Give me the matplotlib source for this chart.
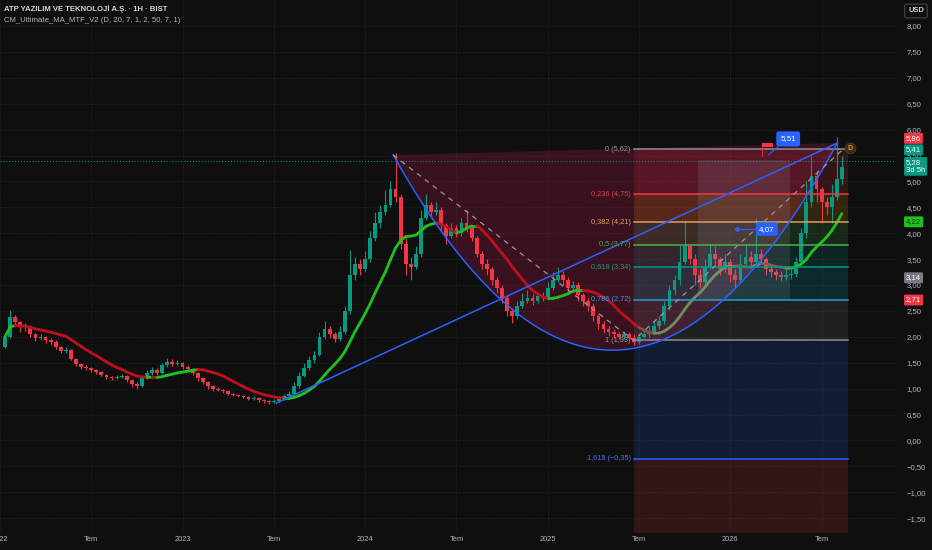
import matplotlib.pyplot as plt
import matplotlib.transforms as mtransforms
from matplotlib.collections import LineCollection
import numpy as np
import pandas as pd

plt.rcParams["font.family"] = ["Liberation Sans", "DejaVu Sans"]

BG = "#0f0f0f"
UP = "#089981"
DOWN = "#f23645"
TXT = "#b2b5be"
BLUE = "#2962ff"

# candles, about 3 per month, first one in Jan 2022
first_open = 1.80
closes = [
    2.00, 2.38, 2.28, 2.18, 2.20, 2.05, 1.98, 2.00, 1.93, 1.90,
    1.80, 1.72, 1.74, 1.58, 1.48, 1.42, 1.40, 1.35, 1.32, 1.27,
    1.22, 1.20, 1.22, 1.24, 1.16, 1.08, 1.05, 1.20, 1.30, 1.36,
    1.30, 1.45, 1.52, 1.48, 1.50, 1.42, 1.38, 1.30, 1.20, 1.12,
    1.05, 1.00, 0.98, 0.95, 0.90, 0.88, 0.86, 0.84, 0.80, 0.82,
    0.78, 0.76, 0.74, 0.77, 0.80, 0.86, 0.90, 1.05, 1.25, 1.40,
    1.55, 1.65, 2.00, 2.15, 2.05, 1.95, 2.10, 2.50, 3.20, 3.40,
    3.30, 3.50, 3.90, 4.20, 4.40, 4.55, 4.85, 4.70, 3.80, 3.40,
    3.35, 3.60, 4.30, 4.55, 4.40, 4.45, 4.15, 3.95, 4.10, 4.00,
    4.20, 4.10, 3.90, 3.60, 3.40, 3.30, 3.10, 2.95, 2.75, 2.50,
    2.40, 2.60, 2.70, 2.75, 2.70, 2.78, 2.75, 2.95, 3.10, 3.20,
    3.10, 2.95, 3.00, 2.80, 2.70, 2.60, 2.40, 2.25, 2.15, 2.10,
    2.05, 2.00, 2.05, 1.98, 1.90, 2.00, 2.05, 2.10, 2.20, 2.30,
    2.60, 2.90, 3.10, 3.45, 3.75, 3.50, 3.20, 3.05, 3.35, 3.60,
    3.50, 3.30, 3.45, 3.20, 3.10, 3.40, 3.55, 3.45, 3.60, 3.50,
    3.30, 3.25, 3.20, 3.15, 3.20, 3.22, 3.45, 4.00, 4.60, 5.10,
    4.85, 4.60, 4.50, 4.70, 5.05, 5.28,
]
highs = [
    2.05, 2.52, 2.42, 2.30, 2.27, 2.22, 2.08, 2.05, 2.02, 1.98,
    1.93, 1.82, 1.80, 1.76, 1.60, 1.50, 1.45, 1.42, 1.37, 1.34,
    1.29, 1.24, 1.26, 1.28, 1.26, 1.18, 1.12, 1.24, 1.35, 1.42,
    1.40, 1.50, 1.60, 1.58, 1.56, 1.52, 1.46, 1.40, 1.32, 1.22,
    1.14, 1.07, 1.03, 1.00, 0.97, 0.92, 0.90, 0.88, 0.86, 0.85,
    0.84, 0.80, 0.78, 0.80, 0.83, 0.90, 0.95, 1.12, 1.32, 1.50,
    1.62, 1.72, 2.10, 2.30, 2.20, 2.10, 2.20, 2.60, 3.68, 3.55,
    3.50, 3.65, 4.05, 4.40, 4.55, 4.83, 5.00, 5.55, 4.75, 3.90,
    3.55, 3.75, 4.45, 4.75, 4.60, 4.60, 4.50, 4.20, 4.20, 4.15,
    4.30, 4.45, 4.15, 3.95, 3.65, 3.50, 3.35, 3.15, 3.00, 2.80,
    2.55, 2.70, 2.85, 2.90, 2.82, 2.85, 2.86, 3.05, 3.25, 3.35,
    3.28, 3.15, 3.08, 3.05, 2.85, 2.75, 2.65, 2.45, 2.30, 2.20,
    2.15, 2.10, 2.12, 2.10, 2.05, 2.08, 2.12, 2.18, 2.28, 2.40,
    2.70, 3.00, 3.20, 3.80, 4.25, 3.80, 3.60, 3.30, 3.50, 3.80,
    3.75, 3.55, 3.60, 3.50, 3.30, 3.60, 3.80, 3.65, 4.30, 3.70,
    3.55, 3.40, 3.30, 3.28, 3.30, 3.30, 3.55, 4.10, 5.00, 5.50,
    5.20, 4.90, 4.70, 4.95, 5.86, 5.50,
]
lows = [
    1.78, 1.98, 2.20, 2.10, 2.12, 2.00, 1.92, 1.94, 1.88, 1.85,
    1.76, 1.68, 1.68, 1.55, 1.44, 1.38, 1.36, 1.32, 1.29, 1.24,
    1.19, 1.17, 1.18, 1.20, 1.13, 1.04, 1.00, 1.04, 1.18, 1.27,
    1.26, 1.28, 1.42, 1.44, 1.45, 1.38, 1.34, 1.26, 1.15, 1.08,
    1.00, 0.96, 0.95, 0.92, 0.87, 0.85, 0.83, 0.81, 0.78, 0.78,
    0.75, 0.73, 0.71, 0.72, 0.75, 0.78, 0.84, 0.88, 1.02, 1.22,
    1.36, 1.50, 1.62, 1.95, 1.98, 1.90, 1.92, 2.05, 2.45, 3.10,
    3.20, 3.25, 3.45, 3.85, 4.10, 4.35, 4.50, 4.60, 3.70, 3.20,
    3.10, 3.30, 3.55, 4.25, 4.30, 4.35, 4.05, 3.80, 3.90, 3.92,
    3.95, 4.02, 3.85, 3.55, 3.30, 3.20, 3.00, 2.85, 2.65, 2.40,
    2.27, 2.35, 2.55, 2.65, 2.62, 2.66, 2.70, 2.72, 2.90, 3.05,
    3.00, 2.85, 2.90, 2.70, 2.60, 2.50, 2.30, 2.15, 2.08, 2.02,
    1.98, 1.95, 1.96, 1.92, 1.84, 1.87, 1.97, 2.00, 2.05, 2.15,
    2.25, 2.52, 2.80, 3.00, 3.40, 3.40, 3.00, 2.95, 3.00, 3.30,
    3.40, 3.20, 3.25, 3.05, 2.95, 3.05, 3.35, 3.35, 3.40, 3.40,
    3.20, 3.15, 3.10, 3.08, 3.10, 3.12, 3.15, 3.40, 3.90, 4.50,
    4.60, 4.20, 4.35, 4.20, 4.65, 4.95,
]

# fib retracement drawing
fib_high = 5.62
fib_low = 1.93
fib_start, fib_end = 41.64, 55.74
fib_levels = [0, 0.236, 0.382, 0.5, 0.618, 0.786, 1, 1.618, 2.618]
fib_colors = ["#787b86", "#f23645", "#ff9800", "#4caf50", "#089981",
              "#00bcd4", "#787b86", "#2962ff", "#f23645"]
fib_line_colors = ["#8a8d96", "#f23645", "#d9a066", "#4caf50", "#089981",
                   "#1e9fd6", "#8a8d96", "#2962ff", "#f23645"]
fib_text_colors = ["#9598a1", "#d9404e", "#d9a066", "#4caf50", "#1a9c7f",
                   "#3d9be0", "#9598a1", "#3d72f0", "#f23645"]

# other drawings (month index, price)
curve_x = [25.84, 40.49, 55.02]
curve_y = [5.51, -2.14, 5.74]
trend_x = [18.16, 55.02]
trend_y = [0.72, 5.74]
dash_x = [25.84, 41.64, 55.41]
dash_y = [5.51, 1.93, 5.62]
box_x = [45.9, 51.93]
box_y = [2.71, 5.41]

month_ticks = [0, 6, 12, 18, 24, 30, 36, 42, 48, 54]
month_labels = ["2022", "Tem", "2023", "Tem", "2024", "Tem", "2025", "Tem", "2026", "Tem"]


def fmt(v):
    return f"{v:.2f}".replace(".", ",").replace("-", "\u2212")


fig = plt.figure(figsize=(9.32, 5.5), dpi=100, facecolor=BG)
ax = fig.add_axes([0, 18 / 550, 895 / 932, 532 / 550])
ax.set_facecolor(BG)
ax.set_xlim(0.131, 58.82)
ax.set_ylim(-1.768, 8.502)
for s in ax.spines.values():
    s.set_visible(False)

ax.set_xticks(month_ticks)
ax.set_xticklabels(month_labels)
ax.set_yticks(np.arange(-1.5, 8.01, 0.5))
ax.set_yticklabels([fmt(v) for v in np.arange(-1.5, 8.01, 0.5)])
ax.yaxis.tick_right()
ax.tick_params(axis="y", length=0, pad=8.4, labelsize=5.6, labelcolor=TXT)
ax.tick_params(axis="x", length=0, pad=3, labelsize=5.4, labelcolor=TXT)
ax.grid(True, color="#2b2b2b", linestyle=(0, (1, 2)), linewidth=0.6)
ax.set_axisbelow(True)

# arc fill + curve
t = np.linspace(0, 1, 200)
cx = (1 - t) ** 2 * curve_x[0] + 2 * (1 - t) * t * curve_x[1] + t ** 2 * curve_x[2]
cy = (1 - t) ** 2 * curve_y[0] + 2 * (1 - t) * t * curve_y[1] + t ** 2 * curve_y[2]
ax.fill(cx, cy, color="#e91e63", alpha=0.2, lw=0, zorder=1)

# fib bands, lines, labels
fib_prices = [fib_high - lv * (fib_high - fib_low) for lv in fib_levels]
for k in range(len(fib_levels) - 1):
    ax.fill_between([fib_start, fib_end], fib_prices[k], fib_prices[k + 1],
                    color=fib_colors[k + 1], alpha=0.16, lw=0, zorder=1.2)
for k in range(len(fib_levels) - 1):
    ax.plot([fib_start, fib_end], [fib_prices[k]] * 2, color=fib_line_colors[k],
            lw=1.1, zorder=5)
    lv = fib_levels[k]
    lv_txt = (f"{lv:g}").replace(".", ",")
    ax.text(fib_start - 0.2, fib_prices[k], f"{lv_txt} ({fmt(fib_prices[k])})",
            ha="right", va="center", fontsize=5.3, color=fib_text_colors[k],
            zorder=2 if lv == 1 else 6)

# candles
n = len(closes)
xs = 0.33 + np.arange(n) / 3
opens = np.array([first_open] + closes[:-1])
c = np.array(closes)
colors = np.where(c >= opens, UP, DOWN)
ax.vlines(xs, lows, highs, colors=colors, lw=0.8, zorder=3)
body_lo = np.minimum(opens, c)
body_h = np.maximum(np.abs(c - opens), 0.02)
ax.bar(xs, body_h, bottom=body_lo, width=0.25, color=colors, lw=0, zorder=3.1)

# moving average, green rising / red falling
ma = pd.Series(closes).rolling(12, min_periods=1).mean().to_numpy()
pts = np.column_stack([xs, ma])
segs = np.stack([pts[:-1], pts[1:]], axis=1)
seg_cols = []
for i in range(n - 1):
    rising = ma[i + 1] >= ma[i]
    if 125 <= i < 155:
        seg_cols.append("#6f8f62" if rising else "#8a4a4a")
    else:
        seg_cols.append("#1fc01f" if rising else "#c0101c")
ax.add_collection(LineCollection(segs, colors=seg_cols, linewidths=2.0,
                                 capstyle="round", zorder=3.5))

# gray range box
ax.fill_between(box_x, box_y[0], box_y[1], color="#9598a1", alpha=0.17,
                lw=0, zorder=4)

# lines on top
ax.plot(cx, cy, color=BLUE, lw=1.1, zorder=5)
ax.plot(trend_x, trend_y, color=BLUE, lw=1.1, zorder=5)
ax.plot(dash_x, dash_y, color="#9598a1", lw=0.9, ls=(0, (4, 4)), zorder=5)

# current price line
ax.axhline(5.40, color=UP, lw=0.7, ls=(0, (1, 2)), zorder=2)

# flag + 5,51 callout
ax.fill_between([50.1, 50.8], 5.66, 5.74, color=DOWN, lw=0, zorder=6)
ax.plot([50.1, 50.1], [5.50, 5.74], color=DOWN, lw=0.6, zorder=6)
ax.plot([50.5, 51.1], [5.51, 5.66], color=BLUE, lw=0.8, zorder=6)
ax.text(51.8, 5.82, "5,51", ha="center", va="center", fontsize=5.8, color="white",
        bbox=dict(boxstyle="round,pad=0.5,rounding_size=0.25", fc=BLUE, ec="none"),
        zorder=7)

# 4,07 callout
ax.plot([48.46, 49.7], [4.08, 4.08], color=BLUE, lw=0.8, zorder=6)
ax.scatter([48.46], [4.08], s=6, color=BLUE, zorder=6)
ax.text(50.4, 4.08, "4,07", ha="center", va="center", fontsize=5.8, color="white",
        bbox=dict(boxstyle="round,pad=0.4,rounding_size=0.25", fc=BLUE, ec="none"),
        zorder=7)

# dividend marker
ax.scatter([fib_end + 0.1], [5.64], s=60, color="#3b2a1c", edgecolor="#5a3d20",
           lw=0.6, zorder=7)
ax.text(fib_end + 0.1, 5.64, "D", ha="center", va="center", fontsize=5,
        color="#f7931a", fontweight="bold", zorder=8)

# price scale tags
trans = mtransforms.blended_transform_factory(ax.transAxes, ax.transData)


def price_tag(y, text, color, tc="white"):
    ax.text(1.0 + 11 / 895, y, text, transform=trans, ha="left", va="center",
            fontsize=5.6, color=tc, linespacing=1.15,
            bbox=dict(boxstyle="round,pad=0.25,rounding_size=0.15", fc=color, ec="none"),
            clip_on=False, zorder=20)


price_tag(5.83, "5,86", DOWN)
price_tag(5.61, "5,41", UP)
price_tag(5.29, "5,28\n3d 5h", UP)
price_tag(4.22, "4,22", "#1fc01f", tc="#0f3f0f")
price_tag(3.14, "3,14", "#787b86")
price_tag(2.71, "2,71", DOWN)

fig.text(916 / 932, 1 - 11 / 550, "USD", ha="center", va="center", fontsize=5.4,
         color="#d1d4dc", fontweight="bold",
         bbox=dict(boxstyle="round,pad=0.45,rounding_size=0.3", fc=BG, ec="#434651", lw=0.8))

# header
fig.text(4 / 932, 1 - 9 / 550, "ATP YAZILIM VE TEKNOLOJİ A.Ş. · 1H · BIST",
         ha="left", va="center", fontsize=5.6, fontweight="bold", color="#d1d4dc")
fig.text(4 / 932, 1 - 21 / 550, "CM_Ultimate_MA_MTF_V2 (D, 20, 7, 1, 2, 50, 7, 1)",
         ha="left", va="center", fontsize=5.6, color="#b2b5be")

fig.savefig("out.png", dpi=100, facecolor=BG)
